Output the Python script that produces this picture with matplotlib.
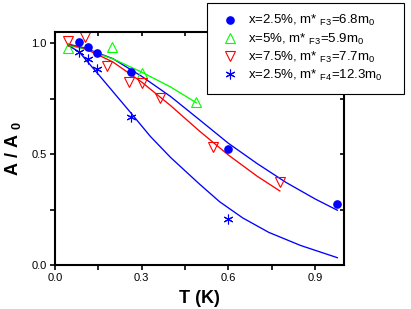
import matplotlib
matplotlib.use("Agg")
import matplotlib.pyplot as plt
from matplotlib.patches import Rectangle

plt.rcParams['font.family'] = ['Liberation Sans', 'DejaVu Sans']
plt.rcParams['mathtext.fontset'] = 'custom'
plt.rcParams['mathtext.rm'] = 'Liberation Sans'
plt.rcParams['mathtext.it'] = 'Liberation Sans'
plt.rcParams['mathtext.bf'] = 'Liberation Sans:bold'

# --- measured data ---
T_a = [0.083, 0.115, 0.147, 0.264, 0.599, 0.977]
A_a = [1.007, 0.985, 0.955, 0.872, 0.523, 0.277]

T_b = [0.044, 0.198, 0.301, 0.489]
A_b = [0.977, 0.982, 0.867, 0.733]

T_c = [0.046, 0.103, 0.180, 0.256, 0.302, 0.362, 0.546, 0.778]
A_c = [1.012, 1.027, 0.897, 0.824, 0.819, 0.754, 0.533, 0.375]

T_d = [0.083, 0.113, 0.147, 0.264, 0.599]
A_d = [0.962, 0.929, 0.882, 0.668, 0.206]

# --- fit curves ---
fT_a = [0.046, 0.1, 0.2, 0.3, 0.4, 0.5, 0.6, 0.7, 0.8, 0.9, 0.977]
fA_a = [0.996, 0.980, 0.931, 0.851, 0.760, 0.655, 0.549, 0.457, 0.372, 0.298, 0.247]

fT_b = [0.046, 0.1, 0.2, 0.3, 0.4, 0.489]
fA_b = [0.990, 0.975, 0.930, 0.870, 0.803, 0.732]

fT_c = [0.046, 0.1, 0.2, 0.3, 0.4, 0.5, 0.6, 0.7, 0.778]
fA_c = [0.995, 0.978, 0.916, 0.825, 0.719, 0.604, 0.496, 0.400, 0.334]

fT_d = [0.046, 0.083, 0.15, 0.26, 0.33, 0.40, 0.50, 0.57, 0.65, 0.74, 0.85, 0.977]
fA_d = [0.990, 0.962, 0.860, 0.690, 0.580, 0.485, 0.365, 0.285, 0.212, 0.147, 0.088, 0.033]

labels = [r"x=2.5%, m* $_{\rm F3}$=6.8m$_{\rm 0}$",
          r"x=5%, m* $_{\rm F3}$=5.9m$_{\rm 0}$",
          r"x=7.5%, m* $_{\rm F3}$=7.7m$_{\rm 0}$",
          r"x=2.5%, m* $_{\rm F4}$=12.3m$_{\rm 0}$"]

xticks = [0.0, 0.3, 0.6, 0.9]
yticks = [0.0, 0.5, 1.0]

BLUE = (0, 0, 1)
GREEN = (0, 1, 0)
RED = (1, 0, 0)

W, H = 411, 309
fig = plt.figure(figsize=(W/100, H/100), dpi=100)
ax = fig.add_axes([55/W, 44/H, 289/W, 233/H])

lw = 0.95
ax.plot(fT_a, fA_a, color=BLUE, lw=lw)
ax.plot(fT_b, fA_b, color=GREEN, lw=lw)
ax.plot(fT_c, fA_c, color=RED, lw=lw)
ax.plot(fT_d, fA_d, color=BLUE, lw=lw)

h1, = ax.plot(T_a, A_a, 'o', ms=5.2, color=BLUE, mec=BLUE, ls='none', label=labels[0])
h2, = ax.plot(T_b, A_b, '^', ms=6.5, mfc='none', mec=GREEN, mew=0.8, ls='none', label=labels[1])
h3, = ax.plot(T_c, A_c, 'v', ms=6.5, mfc='none', mec=RED, mew=0.8, ls='none', label=labels[2])
h4, = ax.plot(T_d, A_d, marker=(6, 2, 0), ms=7, color=BLUE, mew=0.8, ls='none', label=labels[3])

ax.set_xlim(0, 1.0)
ax.set_ylim(0, 1.051)
ax.set_xticks(xticks)
ax.set_xticklabels(["0.0", "0.3", "0.6", "0.9"])
ax.set_xticks([0.15, 0.45, 0.75], minor=True)
ax.set_yticks(yticks)
ax.set_yticklabels(["0.0", "0.5", "1.0"])
ax.set_yticks([0.25, 0.75], minor=True)

for s in ax.spines.values():
    s.set_linewidth(1.5)

ax.tick_params(which='both', direction='out', length=3.5, width=1.2, labelsize=8,
               top=False, right=False, pad=2.5)
ax2 = ax.secondary_xaxis('top')
ax2.set_xticks(xticks)
ax2.set_xticks([0.15, 0.45, 0.75], minor=True)
ax2.tick_params(which='both', direction='in', length=3, width=1.2, labeltop=False)
ax3 = ax.secondary_yaxis('right')
ax3.set_yticks(yticks)
ax3.set_yticks([0.25, 0.75], minor=True)
ax3.tick_params(which='both', direction='in', length=3, width=1.2, labelright=False)
for a in (ax2, ax3):
    for s in a.spines.values():
        s.set_visible(False)

ax.set_xlabel("T (K)", fontsize=13, fontweight='bold', labelpad=5)
ax.set_ylabel(r"A / A $_{\bf 0}$", fontsize=13, fontweight='bold', labelpad=6)

# legend frame (opaque, covers the axes corner)
frame = Rectangle((207/W, 1 - 94/H), 197/W, 91/H, transform=fig.transFigure,
                  facecolor='white', edgecolor='black', linewidth=0.8, zorder=5)
fig.patches.append(frame)

leg = fig.legend(handles=[h1, h2, h3, h4], loc='upper left',
                 bbox_to_anchor=(207/W, 1 - 5/H), fontsize=9.5,
                 frameon=False, borderpad=0.62, handlelength=2.2,
                 handletextpad=0.25, labelspacing=0.24, borderaxespad=0)
leg.set_zorder(10)

fig.savefig("out.png", dpi=100)
